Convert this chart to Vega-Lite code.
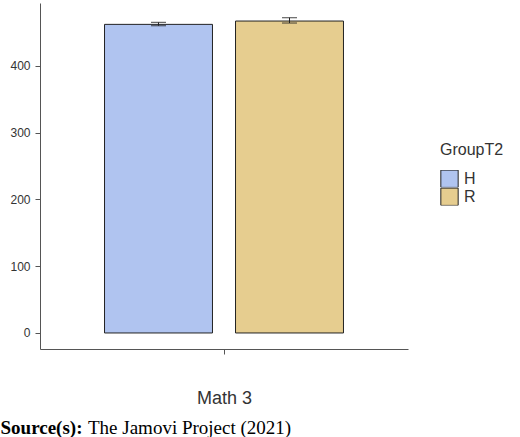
{
  "$schema": "https://vega.github.io/schema/vega-lite/v6.json",
  "autosize": "none",
  "width": 368,
  "height": 346,
  "padding": {"left": 40, "top": 3, "right": 112, "bottom": 88},
  "background": "white",
  "config": {
    "view": {"stroke": null},
    "font": "Liberation Sans",
    "axis": {
      "grid": false,
      "domainColor": "#555555",
      "tickColor": "#555555",
      "labelColor": "#333333",
      "labelFont": "Liberation Sans",
      "titleFont": "Liberation Sans"
    }
  },
  "data": {
    "values": [
      {"var": "Math 3", "group": "H", "mean": 462, "lo": 460, "hi": 465},
      {"var": "Math 3", "group": "R", "mean": 467, "lo": 464, "hi": 472}
    ]
  },
  "title": {
    "text": "The Jamovi Project (2021)",
    "orient": "bottom",
    "anchor": "start",
    "frame": "group",
    "dx": 48,
    "offset": -3,
    "baseline": "alphabetic",
    "font": "Liberation Serif",
    "fontSize": 19,
    "fontWeight": "normal",
    "color": "black"
  },
  "encoding": {
    "x": {
      "field": "var",
      "type": "nominal",
      "scale": {"paddingInner": 0, "paddingOuter": 0.27},
      "axis": {
        "labels": false,
        "title": "Math 3",
        "titleFontSize": 18,
        "titleFontWeight": "normal",
        "titleColor": "#333333",
        "titlePadding": 35,
        "tickSize": 5
      }
    },
    "xOffset": {
      "field": "group",
      "type": "nominal",
      "scale": {"paddingInner": 0.176, "paddingOuter": 0}
    }
  },
  "layer": [
    {
      "mark": {"type": "bar", "stroke": "#222222", "strokeWidth": 1},
      "encoding": {
        "y": {
          "field": "mean",
          "type": "quantitative",
          "scale": {"domain": [-24, 494], "nice": false, "zero": false},
          "axis": {
            "values": [0, 100, 200, 300, 400],
            "title": "Source(s):",
            "titleAngle": 0,
            "titleAlign": "left",
            "titleBaseline": "alphabetic",
            "titleX": -40,
            "titleY": 430,
            "titleFont": "Liberation Serif",
            "titleFontSize": 19,
            "titleFontWeight": "bold",
            "titleColor": "black",
            "labelFontSize": 12,
            "labelPadding": 5,
            "tickSize": 5
          }
        },
        "y2": {"datum": 0},
        "color": {
          "field": "group",
          "type": "nominal",
          "scale": {"domain": ["H", "R"], "range": ["#b0c4f0", "#e6cd8f"]},
          "legend": {
            "title": "GroupT2",
            "orient": "none",
            "legendX": 400,
            "legendY": 139,
            "titleFontSize": 16,
            "titleFontWeight": "normal",
            "titleColor": "#333333",
            "titlePadding": 12,
            "labelFontSize": 16,
            "labelColor": "#333333",
            "symbolType": "square",
            "symbolSize": 300,
            "symbolStrokeColor": "#222222",
            "symbolStrokeWidth": 1,
            "clipHeight": 17.5,
            "rowPadding": 0,
            "labelOffset": 5
          }
        }
      }
    },
    {
      "mark": {"type": "rule", "color": "#222222", "strokeWidth": 1},
      "encoding": {
        "y": {"field": "lo", "type": "quantitative"},
        "y2": {"field": "hi"}
      }
    },
    {
      "mark": {"type": "tick", "color": "#222222", "size": 15, "thickness": 1.2},
      "encoding": {"y": {"field": "lo", "type": "quantitative"}}
    },
    {
      "mark": {"type": "tick", "color": "#222222", "size": 15, "thickness": 1.2},
      "encoding": {"y": {"field": "hi", "type": "quantitative"}}
    }
  ]
}
